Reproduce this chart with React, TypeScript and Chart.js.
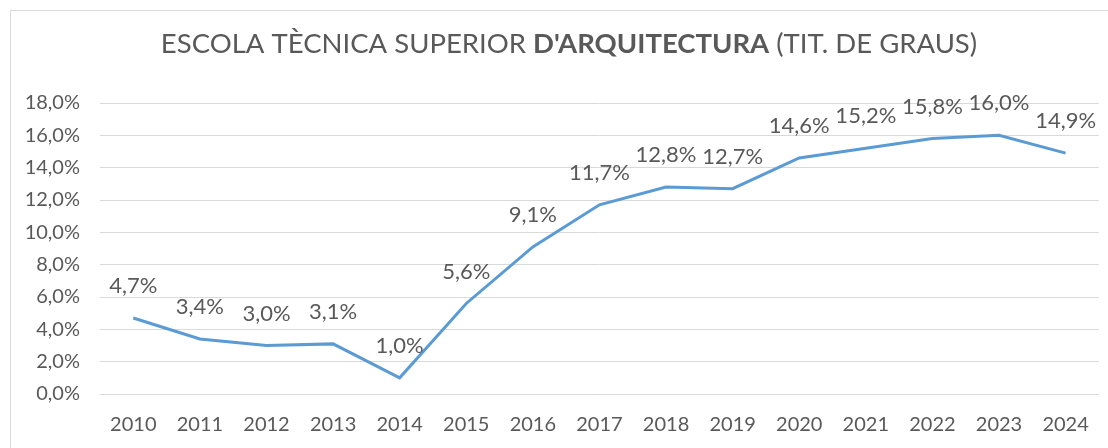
import React, { useEffect, useRef } from "react";
import { Chart, registerables } from "chart.js";

Chart.register(...registerables);

const years: string[] = ["2010","2011","2012","2013","2014","2015","2016","2017","2018","2019","2020","2021","2022","2023","2024"];
const rates: number[] = [4.7, 3.4, 3.0, 3.1, 1.0, 5.6, 9.1, 11.7, 12.8, 12.7, 14.6, 15.2, 15.8, 16.0, 14.9];
const titleParts: { text: string; bold: boolean }[] = [
  { text: "ESCOLA TÈCNICA SUPERIOR ", bold: false },
  { text: "D'ARQUITECTURA", bold: true },
  { text: " (TIT. DE GRAUS)", bold: false },
];

const FONT = "Lato, 'Open Sans', sans-serif";
const TEXT = "#595959";
const fmt = (v: number) => v.toFixed(1).replace(".", ",") + "%";

const framePlugin = {
  id: "frameTitle",
  beforeDraw(chart: any) {
    const ctx = chart.ctx;
    ctx.save();
    ctx.fillStyle = "#ffffff";
    ctx.fillRect(0, 0, chart.width, chart.height);
    ctx.strokeStyle = "#D9D9D9";
    ctx.lineWidth = 1;
    ctx.strokeRect(10.5, 10.5, chart.width + 50, chart.height + 50);
    const size = 27.5;
    let total = 0;
    const widths = titleParts.map((p) => {
      ctx.font = `${p.bold ? "bold " : ""}${size}px ${FONT}`;
      const w = ctx.measureText(p.text).width;
      total += w;
      return w;
    });
    let x = 569 - total / 2;
    ctx.fillStyle = TEXT;
    ctx.textBaseline = "alphabetic";
    ctx.textAlign = "left";
    titleParts.forEach((p, i) => {
      ctx.font = `${p.bold ? "bold " : ""}${size}px ${FONT}`;
      ctx.fillText(p.text, x, 53);
      x += widths[i];
    });
    ctx.restore();
  },
};

const labelPlugin = {
  id: "valueLabels",
  afterDatasetsDraw(chart: any) {
    const ctx = chart.ctx;
    const meta = chart.getDatasetMeta(0);
    ctx.save();
    ctx.font = `22px ${FONT}`;
    ctx.fillStyle = TEXT;
    ctx.textAlign = "center";
    ctx.textBaseline = "middle";
    meta.data.forEach((pt: any, i: number) => {
      ctx.fillText(fmt(rates[i]), pt.x, pt.y - 32);
    });
    ctx.restore();
  },
};

export default function App() {
  const ref = useRef<HTMLCanvasElement>(null);
  useEffect(() => {
    if (!ref.current) return;
    const chart = new Chart(ref.current, {
      type: "line",
      data: {
        labels: years,
        datasets: [
          {
            data: rates,
            borderColor: "#5B9BD5",
            borderWidth: 3,
            pointRadius: 0,
            tension: 0,
            fill: false,
          },
        ],
      },
      options: {
        responsive: false,
        animation: false,
        layout: { padding: { left: 0, right: 6, top: 103, bottom: 0 } },
        plugins: {
          legend: { display: false },
          title: { display: false },
          tooltip: { enabled: false },
        },
        scales: {
          x: {
            offset: true,
            grid: { display: false, drawTicks: false },
            border: { display: false },
            ticks: {
              color: TEXT,
              font: { family: FONT, size: 20 },
              padding: 19,
              maxRotation: 0,
              autoSkip: false,
            },
            afterFit: (s: any) => {
              s.height = 54;
            },
          },
          y: {
            min: 0,
            max: 18,
            grid: { color: "#D9D9D9", lineWidth: 1, drawTicks: false },
            border: { display: false },
            ticks: {
              stepSize: 2,
              color: TEXT,
              font: { family: FONT, size: 20 },
              padding: 20,
              callback: (v: any) => fmt(Number(v)),
            },
            afterFit: (s: any) => {
              s.width = 100;
            },
          },
        },
      },
      plugins: [framePlugin, labelPlugin],
    });
    return () => chart.destroy();
  }, []);
  return (
    <div style={{ position: "fixed", left: 0, top: 0, width: 1108, height: 448 }}>
      <canvas ref={ref} width={1108} height={448} />
    </div>
  );
}
